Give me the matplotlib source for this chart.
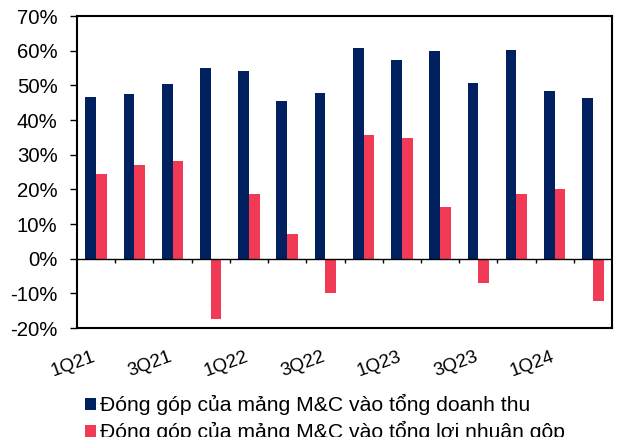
import numpy as np
import matplotlib
matplotlib.use('Agg')
import matplotlib.pyplot as plt
from matplotlib.transforms import ScaledTranslation

quarters = ['1Q21', '2Q21', '3Q21', '4Q21', '1Q22', '2Q22', '3Q22', '4Q22',
            '1Q23', '2Q23', '3Q23', '4Q23', '1Q24', '2Q24']
revenue_share = [46.7, 47.4, 50.3, 55.0, 54.1, 45.5, 47.9, 60.8,
                 57.4, 60.0, 50.6, 60.1, 48.5, 46.4]
profit_share = [24.5, 26.9, 28.3, -17.5, 18.7, 7.0, -10.0, 35.6,
                34.8, 15.0, -6.9, 18.6, 20.0, -12.1]
labels = ['Đóng góp của mảng M&C vào tổng doanh thu',
          'Đóng góp của mảng M&C vào tổng lợi nhuận gộp']

plt.rcParams['font.family'] = ['Liberation Sans', 'DejaVu Sans']

navy = '#002060'
red = '#F03A56'

fig = plt.figure(figsize=(6.24, 4.37), dpi=100)
ax = fig.add_axes([77 / 624, 109 / 437, 535 / 624, 312 / 437])

x = np.arange(len(quarters))
w = 0.28
ax.bar(x - w / 2, revenue_share, w, color=navy, label=labels[0])
ax.bar(x + w / 2, profit_share, w, color=red, label=labels[1])

ax.set_xlim(-0.5, len(quarters) - 0.5)
ax.set_ylim(-20, 70)
ax.set_yticks(np.arange(-20, 71, 10))
ax.set_yticklabels([f'{v}%' for v in range(-20, 71, 10)], fontsize=14.7)
ax.tick_params(axis='y', length=5, width=1, pad=9)

# zero line with small ticks between quarters
ax.axhline(0, color='black', lw=1)
ax.vlines(np.arange(0.5, len(quarters) - 1, 1), -1.2, 0, color='black', lw=1)

ax.set_xticks(x[::2])
ax.set_xticklabels(quarters[::2], rotation=20, ha='right',
                   rotation_mode='anchor', fontsize=13.5)
ax.tick_params(axis='x', length=0, pad=15)
shift = ScaledTranslation(-4 / 100, 0, fig.dpi_scale_trans)
for lab in ax.get_xticklabels():
    lab.set_transform(lab.get_transform() + shift)

for s in ax.spines.values():
    s.set_linewidth(1.5)

fig.legend(loc='upper left', bbox_to_anchor=(85 / 624, (437 - 394) / 437),
           frameon=False, fontsize=15.2, handlelength=0.5, handleheight=0.5,
           handletextpad=0.2, labelspacing=0.3, borderpad=0, borderaxespad=0)

fig.savefig('out.png', dpi=100)
